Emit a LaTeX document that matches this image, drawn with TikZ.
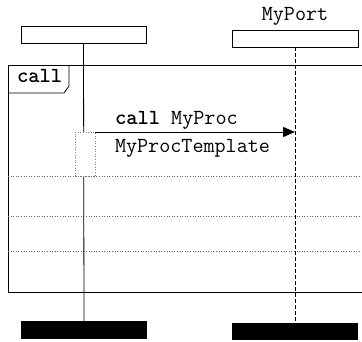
\documentclass[tikz,border=0pt]{standalone}
\usepackage{fontspec}
\usetikzlibrary{arrows.meta}
\begin{document}
\begin{tikzpicture}[x=1pt,y=-1pt,
  every node/.style={font=\ttfamily\fontsize{21.5}{22}\selectfont, inner sep=0pt, outer sep=0pt},
  inst/.style={draw, line width=0.8pt, minimum width=125pt, minimum height=17pt, anchor=north west},
  endbox/.style={fill=black, minimum width=126pt, minimum height=18pt, anchor=north west},
  act/.style={draw=gray, fill=white, dotted, line width=0.6pt, minimum width=20pt, minimum height=44pt, anchor=north west},
  sep/.style={draw=gray!80!black, dotted, line width=0.6pt},
  lab/.style={anchor=base west},
  msg/.style={-{Triangle[length=12pt,width=10pt]}, line width=0.8pt}
]
\useasboundingbox (0,0) rectangle (362,342);
% frame
\node[draw, line width=0.8pt, anchor=north west, minimum width=358pt, minimum height=227pt] (frame) at (8,65) {};
\draw[line width=0.8pt] (frame.west |- 0,93) -- (64,93) -- (69,86) -- (69,65);
\node[lab, font=\ttfamily\fontsize{21.5}{22}\selectfont\bfseries] (kw) at (17,83) {call};
% instances
\node[inst] (ltop) at (21,26) {};
\node[inst, minimum width=126pt] (rtop) at (232,30) {};
\node[anchor=base] (port) at (295,21) {MyPort};
\node[endbox] (lbot) at (21,321) {};
\node[endbox, minimum height=17pt] (rbot) at (232,323) {};
% separators
\foreach \yy in {176,216,251}
  \draw[sep] (frame.west |- 0,\yy) -- (362,\yy);
% lifelines
\draw[line width=0.8pt] (ltop.south) -- (lbot.north);
\draw[line width=0.8pt, dash pattern=on 4pt off 2pt] (rtop.south) -- (rbot.north);
% message
\coordinate (ay) at (0,132);
\draw[msg] (ltop.south |- ay) -- (rtop.south |- ay);
% activation
\node[act] (ab) at (75,132) {};
\node[lab] (m1) at (115,125) {\textbf{call} MyProc};
\node[lab] (m2) at (115,153) {MyProcTemplate};
\end{tikzpicture}
\end{document}
